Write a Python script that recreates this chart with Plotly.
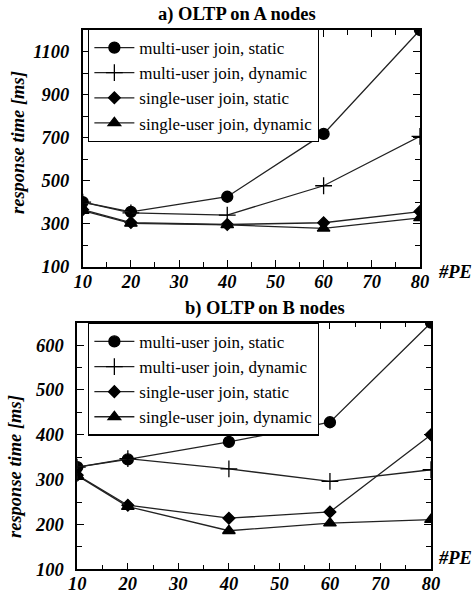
import plotly.graph_objects as go

pe = [10, 20, 40, 60, 80]

# a) OLTP on A nodes
a_multi_static = [400, 355, 425, 717, 1200]
a_multi_dynamic = [400, 350, 340, 476, 706]
a_single_static = [365, 305, 296, 304, 356]
a_single_dynamic = [360, 301, 294, 278, 327]

# b) OLTP on B nodes
b_multi_static = [328, 345, 384, 428, 650]
b_multi_dynamic = [328, 347, 324, 296, 322]
b_single_static = [310, 243, 214, 228, 400]
b_single_dynamic = [309, 240, 186, 203, 211]

names = ["multi-user join, static", "multi-user join, dynamic",
         "single-user join, static", "single-user join, dynamic"]
symbols = ["circle", "cross-thin", "diamond", "triangle-up"]
sizes = [11, 12, 9, 11]

SERIF = "Liberation Serif"
LINE = "#222222"

fig = go.Figure()

top_series = [a_multi_static, a_multi_dynamic, a_single_static, a_single_dynamic]
bot_series = [b_multi_static, b_multi_dynamic, b_single_static, b_single_dynamic]

for i, ys in enumerate(top_series):
    fig.add_trace(go.Scatter(
        x=pe, y=ys, name=names[i], mode="lines+markers",
        line=dict(color=LINE, width=1.3),
        marker=dict(symbol=symbols[i], size=sizes[i], color="black",
                    line=dict(color="black", width=1.3)),
        xaxis="x", yaxis="y", legend="legend", cliponaxis=True))

for i, ys in enumerate(bot_series):
    fig.add_trace(go.Scatter(
        x=pe, y=ys, name=names[i], mode="lines+markers",
        line=dict(color=LINE, width=1.3),
        marker=dict(symbol=symbols[i], size=sizes[i], color="black",
                    line=dict(color="black", width=1.3)),
        xaxis="x2", yaxis="y2", legend="legend2", cliponaxis=True))

tickfont = dict(family=SERIF, size=18.5, color="black", weight="bold", style="italic")
axis_common = dict(showline=True, linecolor="black", linewidth=1.6, mirror="allticks",
                   ticks="inside", ticklen=7, tickwidth=1.2, tickcolor="black",
                   showgrid=False, zeroline=False, tickfont=tickfont, automargin=False)

xt = dict(tickvals=[10, 20, 30, 40, 50, 60, 70, 80], ticklabelstandoff=-3,
          minor=dict(dtick=5, tick0=10, ticks="inside", ticklen=5, tickcolor="black", tickwidth=1.2))

title_font = dict(family=SERIF, size=18.5, color="black", weight="bold", style="italic")
pe_font = dict(family=SERIF, size=18.5, color="black", weight="bold", style="italic")
head_font = dict(family=SERIF, size=18.5, color="black", weight="bold")
legend_font = dict(family=SERIF, size=17, color="black")

fig.update_layout(
    width=474, height=601, margin=dict(l=0, r=0, t=0, b=0, autoexpand=False),
    paper_bgcolor="white", plot_bgcolor="white",
    font=dict(family=SERIF, color="black"),
    showlegend=True,
    xaxis=dict(domain=[0.1745, 0.886], range=[10, 80], anchor="y", **xt, **axis_common),
    yaxis=dict(domain=[0.5563, 0.9501], range=[100, 1200], anchor="x", ticklabelstandoff=8,
               tickvals=[100, 300, 500, 700, 900, 1100],
               minor=dict(dtick=100, tick0=100, ticks="inside", ticklen=5, tickcolor="black", tickwidth=1.2),
               **axis_common),
    xaxis2=dict(domain=[0.1631, 0.9093], range=[10, 80], anchor="y2", **xt, **axis_common),
    yaxis2=dict(domain=[0.0527, 0.4631], range=[100, 650], anchor="x2", ticklabelstandoff=8,
                tickvals=[100, 200, 300, 400, 500, 600],
                minor=dict(dtick=50, tick0=100, ticks="inside", ticklen=5, tickcolor="black", tickwidth=1.2),
                **axis_common),
    legend=dict(x=0.186, y=0.952, xanchor="left", yanchor="top",
                bgcolor="white", bordercolor="black", borderwidth=1.2,
                font=legend_font, tracegroupgap=0, itemwidth=40),
    legend2=dict(x=0.186, y=0.4631, xanchor="left", yanchor="top",
                 bgcolor="white", bordercolor="black", borderwidth=1.2,
                 font=legend_font, tracegroupgap=0, itemwidth=40),
    annotations=[
        dict(text="a) OLTP on A nodes", x=237 / 474, y=1 - 15 / 601, xref="paper", yref="paper",
             xanchor="center", yanchor="middle", showarrow=False, font=head_font),
        dict(text="b) OLTP on B nodes", x=265 / 474, y=1 - 308 / 601, xref="paper", yref="paper",
             xanchor="center", yanchor="middle", showarrow=False, font=head_font),
        dict(text="response time [ms]", x=18 / 474, y=1 - 143 / 601, xref="paper", yref="paper",
             xanchor="center", yanchor="middle", textangle=-90, showarrow=False, font=title_font),
        dict(text="response time [ms]", x=15 / 474, y=1 - 467 / 601, xref="paper", yref="paper",
             xanchor="center", yanchor="middle", textangle=-90, showarrow=False, font=title_font),
        dict(text="#PE", x=455 / 474, y=1 - 272 / 601, xref="paper", yref="paper",
             xanchor="center", yanchor="middle", showarrow=False, font=pe_font),
        dict(text="#PE", x=455 / 474, y=1 - 558 / 601, xref="paper", yref="paper",
             xanchor="center", yanchor="middle", showarrow=False, font=pe_font),
    ],
)

fig.write_html("out.html")
